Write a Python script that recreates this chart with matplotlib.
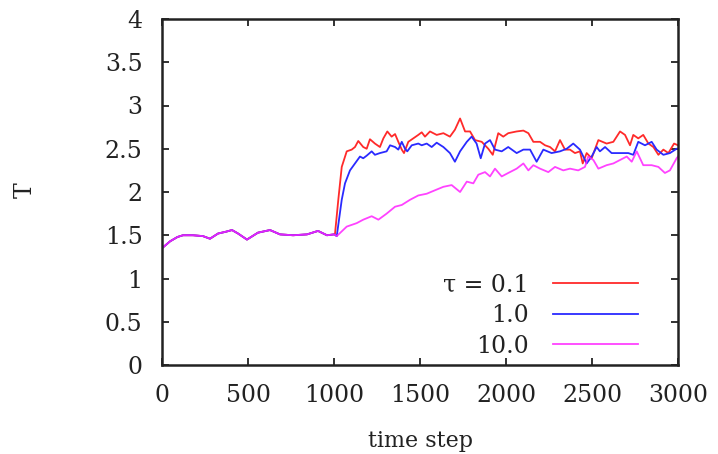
import matplotlib
matplotlib.use("Agg")
import matplotlib.pyplot as plt

# ─── data ────────────────────────────────────────────────
# common part (all three runs identical up to step 1000)
base_steps = [0, 47, 90, 122, 180, 238, 279, 326, 370, 407,
              442, 494, 558, 628, 686, 762, 843, 907, 959, 1000]
base_T = [1.35, 1.43, 1.48, 1.50, 1.50, 1.49, 1.46, 1.52, 1.54, 1.56,
          1.52, 1.45, 1.53, 1.56, 1.51, 1.50, 1.51, 1.55, 1.50, 1.51]

# tau = 0.1
red_steps = [1006, 1025, 1045, 1074, 1103, 1122, 1141, 1170, 1190, 1209,
             1238, 1267, 1287, 1310, 1335, 1355, 1374, 1394, 1407, 1432,
             1461, 1490, 1510, 1529, 1558, 1597, 1636, 1674, 1703, 1733,
             1762, 1791, 1820, 1859, 1897, 1923, 1955, 1984, 2013, 2062,
             2101, 2130, 2159, 2198, 2227, 2256, 2285, 2314, 2343, 2372,
             2401, 2430, 2446, 2469, 2498, 2537, 2585, 2624, 2663, 2692,
             2721, 2740, 2769, 2798, 2828, 2857, 2886, 2915, 2944, 2977,
             3000]
red_T = [1.52, 1.91, 2.29, 2.47, 2.49, 2.52, 2.59, 2.52, 2.50, 2.61,
         2.56, 2.52, 2.62, 2.70, 2.64, 2.67, 2.58, 2.49, 2.45, 2.58,
         2.62, 2.66, 2.69, 2.64, 2.70, 2.66, 2.68, 2.64, 2.72, 2.85,
         2.70, 2.70, 2.60, 2.58, 2.50, 2.43, 2.68, 2.64, 2.68, 2.70,
         2.71, 2.68, 2.58, 2.58, 2.54, 2.52, 2.47, 2.60, 2.49, 2.49,
         2.45, 2.47, 2.33, 2.45, 2.39, 2.60, 2.56, 2.58, 2.70, 2.66,
         2.54, 2.66, 2.62, 2.66, 2.56, 2.52, 2.43, 2.49, 2.45, 2.56,
         2.54]

# tau = 1.0
blue_steps = [1016, 1045, 1064, 1093, 1122, 1151, 1170, 1190, 1219, 1238,
              1267, 1306, 1326, 1355, 1374, 1394, 1413, 1426, 1452, 1490,
              1510, 1539, 1568, 1597, 1636, 1674, 1703, 1733, 1772, 1800,
              1829, 1853, 1878, 1907, 1936, 1975, 2013, 2062, 2101, 2140,
              2178, 2217, 2265, 2314, 2353, 2391, 2430, 2469, 2498, 2527,
              2546, 2576, 2614, 2663, 2711, 2740, 2769, 2808, 2847, 2876,
              2915, 2953, 2992, 3000]
blue_T = [1.49, 1.91, 2.10, 2.25, 2.33, 2.41, 2.39, 2.42, 2.47, 2.43,
          2.45, 2.47, 2.54, 2.52, 2.49, 2.58, 2.50, 2.47, 2.54, 2.56,
          2.54, 2.56, 2.52, 2.57, 2.52, 2.45, 2.35, 2.47, 2.58, 2.64,
          2.56, 2.39, 2.56, 2.60, 2.49, 2.47, 2.52, 2.45, 2.49, 2.49,
          2.35, 2.49, 2.45, 2.47, 2.50, 2.56, 2.49, 2.33, 2.41, 2.52,
          2.47, 2.52, 2.45, 2.45, 2.45, 2.43, 2.58, 2.54, 2.58, 2.49,
          2.43, 2.45, 2.50, 2.50]

# tau = 10.0
mag_steps = [1016, 1074, 1132, 1170, 1219, 1258, 1306, 1355, 1394, 1442,
             1490, 1539, 1587, 1636, 1684, 1733, 1772, 1810, 1839, 1878,
             1907, 1936, 1975, 2013, 2062, 2101, 2130, 2159, 2198, 2246,
             2285, 2333, 2372, 2420, 2459, 2478, 2508, 2537, 2585, 2624,
             2663, 2702, 2731, 2760, 2779, 2798, 2847, 2886, 2924, 2953,
             2992, 3000]
mag_T = [1.49, 1.60, 1.64, 1.68, 1.72, 1.68, 1.75, 1.83, 1.85, 1.91,
         1.96, 1.98, 2.02, 2.06, 2.08, 2.00, 2.12, 2.10, 2.20, 2.23,
         2.18, 2.27, 2.18, 2.22, 2.27, 2.33, 2.25, 2.31, 2.27, 2.23,
         2.29, 2.25, 2.27, 2.25, 2.29, 2.41, 2.37, 2.27, 2.31, 2.33,
         2.37, 2.41, 2.35, 2.47, 2.39, 2.31, 2.31, 2.29, 2.22, 2.25,
         2.39, 2.41]

labels = ["τ = 0.1", "1.0", "10.0"]
x_ticks = [0, 500, 1000, 1500, 2000, 2500, 3000]
y_ticks = [0, 0.5, 1, 1.5, 2, 2.5, 3, 3.5, 4]
y_ticklabels = ["0", "0.5", "1", "1.5", "2", "2.5", "3", "3.5", "4"]
# ─────────────────────────────────────────────────────────

plt.rcParams["font.family"] = ["DejaVu Serif"]

W, H = 718, 454
fig = plt.figure(figsize=(W / 100, H / 100), dpi=100)
ax = fig.add_axes([162 / W, 1 - 365 / H, 516 / W, 346 / H])

series = [
    (red_steps, red_T, "#ff2a2a", 1.0),
    (blue_steps, blue_T, "#2a2aff", 1.0),
    (mag_steps, mag_T, "#ff22ff", 0.85),
]
for (st, tv, col, a), lab in zip(series, labels):
    ax.plot(base_steps + st, base_T + tv, color=col, lw=1.3, alpha=a,
            label=lab, solid_joinstyle="round")

ax.set_xlim(0, 3000)
ax.set_ylim(0, 4)
ax.set_xticks(x_ticks)
ax.set_yticks(y_ticks)
ax.set_yticklabels(y_ticklabels)
ax.tick_params(direction="in", top=True, right=True, length=5, width=1.3,
               labelsize=17, colors="#222222")
ax.tick_params(axis="x", pad=14)
ax.tick_params(axis="y", pad=14)
for sp in ax.spines.values():
    sp.set_linewidth(1.8)
    sp.set_color("#222222")

fig.text(25 / W, 1 - 190 / H, "T", rotation=90, ha="center", va="center",
         fontsize=17, color="#222222")
fig.text(420 / W, 1 - 441 / H, "time step", ha="center", va="center",
         fontsize=16, color="#222222")

leg = ax.legend(loc="lower right", markerfirst=False, frameon=False,
                fontsize=17, handlelength=3.6, handletextpad=1.0,
                labelspacing=0.33, bbox_to_anchor=(0.963, -0.04))
for t in leg.get_texts():
    t.set_color("#222222")

fig.savefig("out.png", dpi=100)
